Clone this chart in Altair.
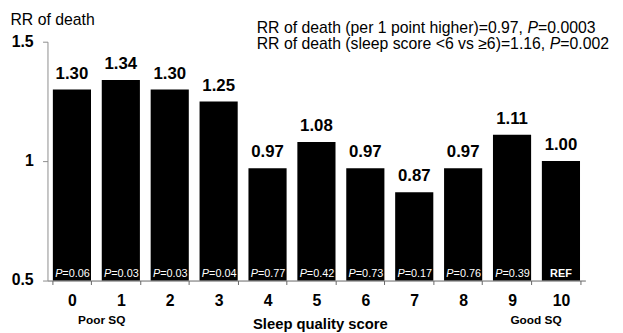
import altair as alt
import pandas as pd

scores = [0, 1, 2, 3, 4, 5, 6, 7, 8, 9, 10]
rr = [1.30, 1.34, 1.30, 1.25, 0.97, 1.08, 0.97, 0.87, 0.97, 1.11, 1.00]
rr_labels = ["1.30", "1.34", "1.30", "1.25", "0.97", "1.08", "0.97", "0.87", "0.97", "1.11", "1.00"]
p_values = ["0.06", "0.03", "0.03", "0.04", "0.77", "0.42", "0.73", "0.17", "0.76", "0.39", "REF"]
y_ticks = [0.5, 1, 1.5]
y_tick_labels = ["0.5", "1", "1.5"]

df = pd.DataFrame({
    "score": scores,
    "rr": rr,
    "rr_label": rr_labels,
    "p_pre": ["P" if p != "REF" else "" for p in p_values],
    "p_rest": ["=" + p if p != "REF" else "" for p in p_values],
    "ref": ["REF" if p == "REF" else "" for p in p_values],
})
tick_df = pd.DataFrame({"rr": y_ticks, "lab": y_tick_labels})

FONT = "Liberation Sans"

x_enc = alt.X(
    "score:O",
    scale=alt.Scale(paddingInner=0.22, paddingOuter=0.11),
    axis=alt.Axis(
        labelAngle=0, tickBand="extent", tickSize=4, labelFontSize=16,
        labelFontWeight="bold", labelColor="black", labelPadding=21,
        labelBaseline="alphabetic", domainColor="#666", tickColor="#666",
        title="Sleep quality score", titleFontSize=15, titleFontWeight="bold",
        titleColor="black", titleBaseline="alphabetic", titleY=49, titleX=276,
    ),
)

y_scale = alt.Scale(domain=[0.5, 1.5], zero=False, nice=False)
y_axis = alt.Axis(
    values=y_ticks, grid=False, tickSize=5, labels=False,
    domainColor="#8c8c8c", tickColor="#8c8c8c",
    title="RR of death", titleAngle=0, titleAlign="left",
    titleBaseline="alphabetic", titleX=-38, titleY=-17,
    titleFontSize=16, titleFontWeight="normal", titleColor="black",
)

base = alt.Chart(df).encode(x=x_enc)

bars = base.mark_bar(color="black").encode(
    y=alt.Y("rr:Q", scale=y_scale, axis=y_axis),
    y2=alt.datum(0.5),
)

value_text = base.mark_text(
    fontSize=17, fontWeight="bold", baseline="alphabetic", dy=-11, color="black"
).encode(y=alt.Y("rr:Q", scale=y_scale, axis=y_axis), text="rr_label:N")

p_pre = base.mark_text(
    fontSize=11, fontStyle="italic", color="white", align="left",
    baseline="alphabetic", dx=-17, dy=-4,
).encode(y=alt.datum(0.5, axis=y_axis), text="p_pre:N")

p_rest = base.mark_text(
    fontSize=11, color="white", align="left", baseline="alphabetic",
    dx=-9.7, dy=-4,
).encode(y=alt.datum(0.5, axis=y_axis), text="p_rest:N")

ref_text = base.mark_text(
    fontSize=11, fontWeight="bold", color="white", align="center",
    baseline="alphabetic", dy=-4,
).encode(y=alt.datum(0.5, axis=y_axis), text="ref:N")

y_labels = alt.Chart(tick_df).mark_text(
    fontSize=16, fontWeight="bold", align="right", baseline="middle",
    color="black",
).encode(
    x=alt.value(-14),
    y=alt.Y("rr:Q", scale=y_scale, axis=y_axis),
    text="lab:N",
)

ann_df = pd.DataFrame({"k": [0]})


def ann(txt, x, y, size=16, style="normal", weight="normal", color="black"):
    return alt.Chart(ann_df).mark_text(
        text=txt, fontSize=size, fontStyle=style, fontWeight=weight,
        align="left", baseline="alphabetic", color=color,
    ).encode(x=alt.value(x), y=alt.value(y))


annotations = [
    ann("RR of death (per 1 point higher)=0.97, ", 212, -9),
    ann("P", 486.4, -9, style="italic"),
    ann("=0.0003", 497.1, -9),
    ann("RR of death (sleep score <6 vs \u22656)=1.16, ", 212, 7),
    ann("P", 508.9, 7, style="italic"),
    ann("=0.002", 519.6, 7),
    alt.Chart(ann_df).mark_text(
        text="Poor SQ", fontSize=12, fontWeight="bold", align="center",
        baseline="alphabetic", color="black",
    ).encode(x=alt.value(55), y=alt.value(286)),
    alt.Chart(ann_df).mark_text(
        text="Good SQ", fontSize=12, fontWeight="bold", align="center",
        baseline="alphabetic", color="black",
    ).encode(x=alt.value(495), y=alt.value(286)),
]

chart = alt.layer(
    bars, value_text, p_pre, p_rest, ref_text, y_labels, *annotations
).properties(
    width=545, height=242,
    padding={"left": 40, "top": 32, "right": 30, "bottom": 51},
    autosize=alt.AutoSizeParams(type="none"),
).configure(font=FONT).configure_view(stroke=None)

chart.save("out.html", embed_options={"renderer": "svg", "actions": False})
